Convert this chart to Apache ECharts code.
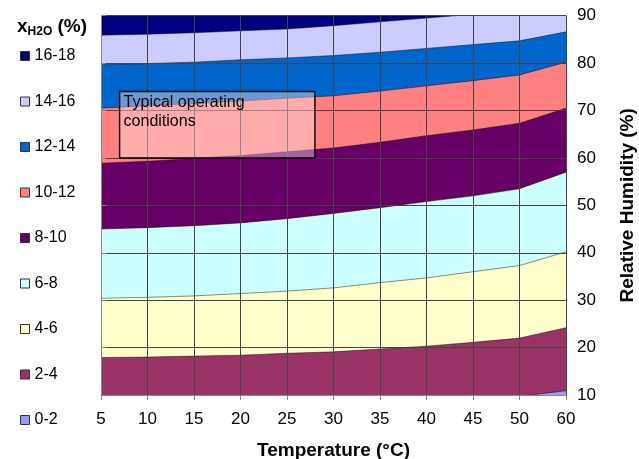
<!DOCTYPE html>
<html><head><meta charset="utf-8">
<script src="https://cdn.jsdelivr.net/npm/echarts@6/dist/echarts.min.js"></script>
<style>html,body{margin:0;padding:0;background:#fff}#c{width:639px;height:459px}</style>
</head><body><div id="c"></div>
<script>
// Temperature categories (°C)
const temperatures = ['5','10','15','20','25','30','35','40','45','50','60'];
// Legend / band names (xH2O %)
const bandNames = ['16-18','14-16','12-14','10-12','8-10','6-8','4-6','2-4','0-2'];
// Relative humidity (%) at the upper edge of each band
const rhTop_16_18 = [91.5, 91.7, 92.0, 92.4, 92.8, 93.5, 94.3, 95.2, 96.2, 97.2, 99.5];
const rhTop_14_16 = [85.9, 86.1, 86.4, 86.8, 87.2, 87.9, 88.7, 89.5, 90.3, 91.1, 93.0];
const rhTop_12_14 = [79.7, 79.9, 80.2, 80.7, 81.1, 81.6, 82.3, 83.1, 83.9, 84.7, 86.6];
const rhTop_10_12 = [70.5, 71.0, 71.5, 72.0, 72.6, 73.1, 74.1, 75.2, 76.3, 77.5, 80.2];
const rhTop_8_10  = [58.9, 59.3, 59.9, 60.5, 61.3, 62.1, 63.3, 64.7, 65.9, 67.3, 70.5];
const rhTop_6_8   = [45.0, 45.3, 45.7, 46.3, 47.2, 48.3, 49.5, 50.8, 52.0, 53.5, 57.0];
const rhTop_4_6   = [30.4, 30.6, 30.9, 31.4, 31.9, 32.6, 33.7, 34.7, 36.0, 37.3, 40.2];
const rhTop_2_4   = [17.9, 18.0, 18.2, 18.4, 18.8, 19.1, 19.7, 20.3, 21.1, 22.0, 24.2];
const rhTop_0_2   = [7.2, 7.4, 7.6, 7.8, 8.1, 8.4, 8.7, 9.0, 9.3, 9.7, 10.9];
// Y axis ticks (relative humidity %)
const rhMin = 10, rhMax = 90, rhStep = 10;
// "Typical operating conditions" region
const boxTemp = [7, 28];
const boxRH = [60, 74];
const boxText = 'Typical operating\nconditions';

const bandTops = [rhTop_16_18, rhTop_14_16, rhTop_12_14, rhTop_10_12, rhTop_8_10, rhTop_6_8, rhTop_4_6, rhTop_2_4, rhTop_0_2];
const bandColors = ['#000080','#CCCCFF','#0066CC','#FF8080','#660066','#CCFFFF','#FFFFCC','#993366','#9999FF'];
const FONT = 'Liberation Sans, Arial, sans-serif';
// temperature -> category index position (uniform 5 °C steps up to 50)
const tIdx = t => (t - 5) / 5;

const chart = echarts.init(document.getElementById('c'), null, {renderer:'canvas'});

const series = bandNames.map((name, i) => ({
  name, type:'line', data: bandTops[i], symbol:'none', showSymbol:false,
  color: bandColors[i], silent:true, z:2, clip:true,
  lineStyle:{width:1, color:'rgba(0,0,0,0.45)'},
  areaStyle:{color: bandColors[i], opacity:1, origin:'start'}
}));
series.push({
  type:'custom', xAxisIndex:1, yAxisIndex:0, silent:true, z:5, clip:false,
  data:[[tIdx(boxTemp[0]), tIdx(boxTemp[1]), boxRH[0], boxRH[1]]],
  encode:{x:[0,1], y:[2,3]},
  renderItem:(params, api) => {
    const p0 = api.coord([api.value(0), api.value(3)]);
    const p1 = api.coord([api.value(1), api.value(2)]);
    return {type:'group', children:[
      {type:'rect', shape:{x:p0[0], y:p0[1], width:p1[0]-p0[0], height:p1[1]-p0[1]},
        style:{fill:'rgba(255,228,232,0.42)', stroke:'#000', lineWidth:1.4}},
      {type:'text', x:p0[0]+4, y:p0[1]+2,
        style:{text:boxText, fill:'#000', fontSize:16, fontFamily:FONT, lineHeight:19}}
    ]};
  }
});

chart.setOption({
  animation:false,
  backgroundColor:'#fff',
  title:{
    left:12, top:12,
    text:'{a|x}{b|H2O}{a| (%)}',
    textStyle:{rich:{
      a:{fontSize:19, fontWeight:'bold', fontFamily:FONT, color:'#000', padding:[0,0,2,0], verticalAlign:'bottom'},
      b:{fontSize:12, fontWeight:'bold', fontFamily:FONT, color:'#000', verticalAlign:'bottom'}
    }}
  },
  legend:{
    orient:'vertical', left:15, top:43, itemWidth:9, itemHeight:9, itemGap:29.5,
    icon:'rect', selectedMode:false,
    textStyle:{fontSize:16, color:'#000', fontFamily:FONT, lineHeight:16},
    data: bandNames.map((n, i) => ({name:n, itemStyle:{color:bandColors[i], borderColor:'#333', borderWidth:1}}))
  },
  grid:{left:101, right:73, top:15.7, bottom:64, containLabel:false, outerBoundsMode:'none'},
  xAxis:[{
    type:'category', data:temperatures, boundaryGap:false, z:3,
    name:'Temperature (°C)', nameLocation:'middle', nameGap:46,
    nameTextStyle:{fontSize:19, fontWeight:'bold', color:'#000', fontFamily:FONT},
    axisLine:{lineStyle:{color:'#888', width:1}},
    axisTick:{show:true, length:5, interval:0, lineStyle:{color:'#888'}},
    axisLabel:{fontSize:17, color:'#000', fontFamily:FONT, margin:16, interval:0},
    splitLine:{show:true, interval:0, lineStyle:{color:'#444', width:1}}
  },{
    type:'value', min:0, max:10, interval:1, show:true, position:'bottom', z:3,
    axisLine:{show:false}, axisTick:{show:false}, axisLabel:{show:false},
    splitLine:{show:true, lineStyle:{color:'#444', width:1}}
  }],
  yAxis:{
    type:'value', position:'right', min:rhMin, max:rhMax, interval:rhStep, z:3,
    name:'Relative Humidity (%)', nameLocation:'middle', nameGap:52, nameRotate:90,
    nameTextStyle:{fontSize:19, fontWeight:'bold', color:'#000', fontFamily:FONT},
    axisLine:{show:true, lineStyle:{color:'#888', width:1}},
    axisTick:{show:true, length:5, lineStyle:{color:'#888'}},
    axisLabel:{fontSize:17, color:'#000', fontFamily:FONT, margin:11},
    splitLine:{show:true, lineStyle:{color:'#444', width:1}}
  },
  series
});
</script></body></html>
